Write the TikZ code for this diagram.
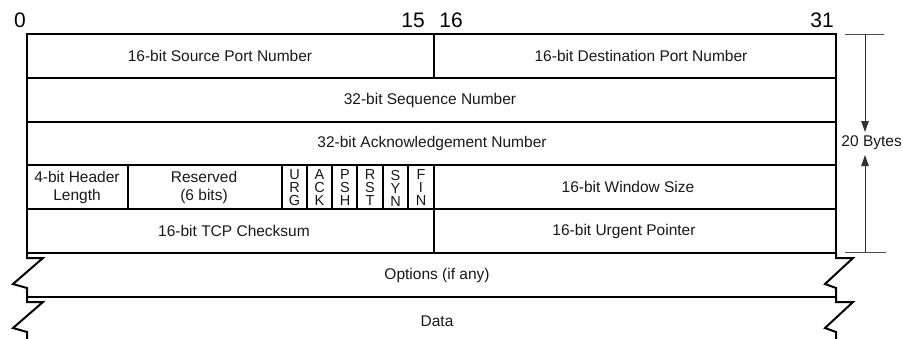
\documentclass[tikz,border=0pt]{standalone}
\usepackage{fontspec}
\setmainfont{Liberation Sans}
\usetikzlibrary{arrows.meta}
\tikzset{
  frame/.style={line width=2.6pt, line cap=rect, line join=miter},
  thinframe/.style={line width=1.3pt},
  zig/.style={line width=2pt, line join=miter},
  dim/.style={line width=1pt, draw=black!70},
  lbl/.style={inner sep=0pt, font=\fontsize{15.5}{18}\selectfont, text=black!90},
  twoline/.style={lbl, align=center, font=\fontsize{15.5}{18}\selectfont},
  flag/.style={inner sep=0pt, align=center, font=\fontsize{14.5}{13}\selectfont, text=black!90},
  bitnum/.style={inner sep=0pt, font=\fontsize{21}{23}\selectfont, anchor=base},
}
\begin{document}
\begin{tikzpicture}[x=1pt,y=-1pt]
\useasboundingbox (0,0) rectangle (903,338);
% bit numbers
\node[bitnum] (b0) at (20,27) {0};
\node[bitnum] (b15) at (413,27) {15};
\node[bitnum] (b16) at (451,27) {16};
\node[bitnum] (b31) at (822,27) {31};
% main frame
\draw[frame] (27,34) rectangle (836,253);
\draw[frame] (27,78) -- (836,78);
\draw[frame] (27,122) -- (836,122);
\draw[frame] (27,165) -- (836,165);
\draw[frame] (27,209) -- (836,209);
\draw[frame] (434,34) -- (434,78);
\draw[frame] (434,165) -- (434,253);
\draw[frame] (128,165) -- (128,209);
\draw[frame] (282,165) -- (282,209);
\foreach \x in {307,332,357,383,408}
  \draw[thinframe] (\x,165) -- (\x,209);
% options and data
\draw[frame] (27,297) -- (836,297);
\draw[zig] (27,253) -- (27,258) -- (43,258) -- (13,284) -- (27,288) -- (27,302) -- (43,302) -- (13,328) -- (27,332) -- (27,342);
\draw[zig] (836,253) -- (836,258) -- (853,258) -- (825,284) -- (836,288) -- (836,302) -- (853,302) -- (825,328) -- (836,332) -- (836,342);
% texts
\node[lbl] (src) at (220,56) {16-bit Source Port Number};
\node[lbl] (dst) at (641,56) {16-bit Destination Port Number};
\node[lbl] (seq) at (430,100) {32-bit Sequence Number};
\node[lbl] (ack) at (432,143.5) {32-bit Acknowledgement Number};
\node[twoline] (hlen) at (77,187) {4-bit Header\\Length};
\node[twoline] (res) at (204,187) {Reserved\\(6 bits)};
\node[flag] (urg) at (294.5,188) {U\\R\\G};
\node[flag] (ackf) at (319.5,188) {A\\C\\K};
\node[flag] (psh) at (345,188) {P\\S\\H};
\node[flag] (rst) at (370,188) {R\\S\\T};
\node[flag] (syn) at (395.5,188) {S\\Y\\N};
\node[flag] (fin) at (421,188) {F\\I\\N};
\node[lbl] (win) at (628,187) {16-bit Window Size};
\node[lbl] (chk) at (234,231) {16-bit TCP Checksum};
\node[lbl] (urp) at (624,231) {16-bit Urgent Pointer};
\node[lbl] (opt) at (437,275) {Options (if any)};
\node[lbl] (data) at (437,321) {Data};
% 20 bytes dimension
\coordinate (t1) at (845,34);
\coordinate (t2) at (884,34);
\coordinate (u1) at (845,252);
\coordinate (u2) at (886,252);
\coordinate (vt) at (865,34);
\coordinate (vb) at (865,252);
\draw[dim] (t1) -- (t2);
\draw[dim] (u1) -- (u2);
\node[lbl, anchor=east] (bytes) at (902,143) {20 Bytes};
\draw[dim, draw=black!80, -{Triangle[length=11pt,width=7.5pt]}] (vt) -- (865,132);
\draw[dim, draw=black!80, -{Triangle[length=11pt,width=7.5pt]}] (vb) -- (865,155);
\end{tikzpicture}
\end{document}
